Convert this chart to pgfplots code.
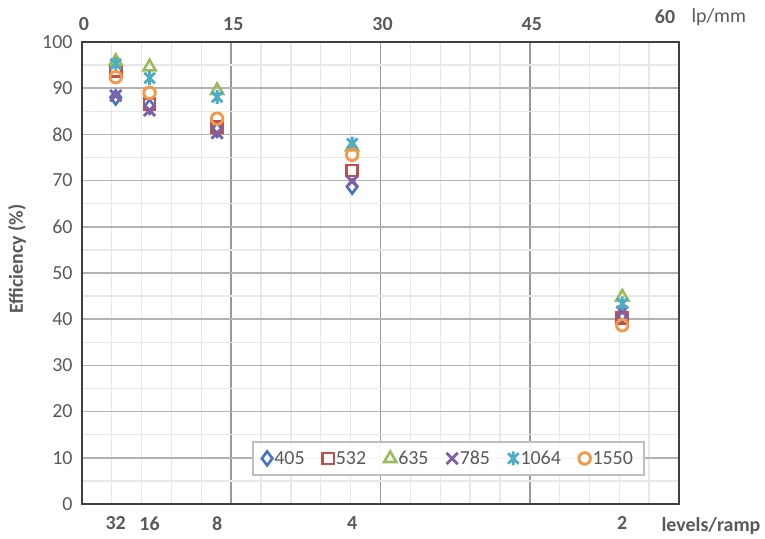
\documentclass[border=0pt]{standalone}
\usepackage{fontspec}
\setmainfont{Carlito}
\usepackage{pgfplots}
\pgfplotsset{compat=1.18}
\definecolor{cA}{HTML}{4472C4}
\definecolor{cB}{HTML}{C0504D}
\definecolor{cC}{HTML}{9BBB59}
\definecolor{cD}{HTML}{7F5FA8}
\definecolor{cE}{HTML}{4BACC6}
\definecolor{cF}{HTML}{F79646}
\definecolor{txt}{HTML}{595959}
\pgfdeclareplotmark{xstar}{%
  \pgfpathmoveto{\pgfqpoint{-0.75\pgfplotmarksize}{-0.75\pgfplotmarksize}}%
  \pgfpathlineto{\pgfqpoint{0.75\pgfplotmarksize}{0.75\pgfplotmarksize}}%
  \pgfpathmoveto{\pgfqpoint{-0.75\pgfplotmarksize}{0.75\pgfplotmarksize}}%
  \pgfpathlineto{\pgfqpoint{0.75\pgfplotmarksize}{-0.75\pgfplotmarksize}}%
  \pgfpathmoveto{\pgfqpoint{0pt}{-\pgfplotmarksize}}%
  \pgfpathlineto{\pgfqpoint{0pt}{\pgfplotmarksize}}%
  \pgfusepathqstroke}
\pgfdeclareplotmark{xcross}{%
  \pgfpathmoveto{\pgfqpoint{-0.8\pgfplotmarksize}{-0.8\pgfplotmarksize}}%
  \pgfpathlineto{\pgfqpoint{0.8\pgfplotmarksize}{0.8\pgfplotmarksize}}%
  \pgfpathmoveto{\pgfqpoint{-0.8\pgfplotmarksize}{0.8\pgfplotmarksize}}%
  \pgfpathlineto{\pgfqpoint{0.8\pgfplotmarksize}{-0.8\pgfplotmarksize}}%
  \pgfusepathqstroke}
\newcommand{\fs}{\fontsize{20}{22}\selectfont}
\begin{document}
\begin{tikzpicture}
\begin{axis}[
  at={(0bp,0bp)}, anchor=south west,
  scale only axis, width=597bp, height=462bp,
  xmin=0, xmax=60, ymin=0, ymax=100,
  xtick={0,15,30,45,60}, xticklabels={0,15,30,45,{}}, ytick={0,10,...,100},
  minor x tick num=4, minor y tick num=1,
  grid=both,
  major x grid style={color=black!40, line width=1.6bp},
  major y grid style={color=black!30, line width=1.6bp},
  minor grid style={color=black!9, line width=1.3bp},
  major tick length=0pt, minor tick length=0pt,
  axis line style={color=black!75, line width=1.8bp},
  xticklabel pos=top,
  /pgf/number format/assume math mode=true,
  xticklabel style={font=\fs\bfseries, text=txt, yshift=8bp, xshift=2bp},
  yticklabel style={font=\fs, text=txt, xshift=-6bp},
  legend columns=6,
  legend style={at={(rel axis cs:0.285,0.136)}, anchor=north west,
    draw=black!25, line width=1.5bp, fill=white, fill opacity=0.9, text opacity=1,
    font=\fs, text=txt, inner xsep=9bp, inner ysep=7bp,
    /tikz/every even column/.append style={column sep=16bp}},
  legend image code/.code={\draw[mark repeat=2,mark phase=2] plot coordinates {(0bp,0bp)(7bp,0bp)(14bp,0bp)};},
  clip=false,
]
\addplot[only marks, mark=diamond, mark size=7bp, draw=cA, line width=2.6bp]
  coordinates {(3.39,88.0) (6.79,86.0) (13.58,81.0) (27.15,68.7) (54.3,41.0)};
\addlegendentry{405}
\addplot[only marks, mark=square, mark size=5.6bp, draw=cB, line width=2.6bp]
  coordinates {(3.39,93.8) (6.79,86.5) (13.58,81.6) (27.15,72.2) (54.3,40.3)};
\addlegendentry{532}
\addplot[only marks, mark=triangle, mark size=7bp, draw=cC, line width=2.6bp]
  coordinates {(3.39,95.8) (6.79,94.6) (13.58,89.5) (27.15,77.3) (54.3,44.8)};
\addlegendentry{635}
\addplot[only marks, mark=xcross, mark size=7bp, draw=cD, line width=2.8bp]
  coordinates {(3.39,88.4) (6.79,85.2) (13.58,80.3) (27.15,69.8) (54.3,41.6)};
\addlegendentry{785}
\addplot[only marks, mark=xstar, mark size=7bp, draw=cE, line width=2.8bp]
  coordinates {(3.39,95.2) (6.79,92.2) (13.58,88.1) (27.15,78.0) (54.3,43.4)};
\addlegendentry{1064}
\addplot[only marks, mark=o, mark size=5.8bp, draw=cF, line width=2.8bp]
  coordinates {(3.39,92.4) (6.79,89.0) (13.58,83.4) (27.15,75.6) (54.3,38.7)};
\addlegendentry{1550}
\node[rotate=90, font=\fs\bfseries, text=txt] at (rel axis cs:-0.109,0.53) {Efficiency (\%)};
\node[font=\fs\bfseries, text=txt] at (rel axis cs:1,1) [xshift=-14bp, yshift=25bp] {60};
\node[font=\fs, text=txt, anchor=west] at (rel axis cs:1,1) [xshift=9bp, yshift=25bp] {lp/mm};
\node[font=\fs\bfseries, text=txt, anchor=west] at (rel axis cs:1,0) [xshift=-21bp, yshift=-22bp] {levels/ramp};
\end{axis}
\begin{axis}[
  at={(0bp,0bp)}, anchor=south west,
  scale only axis, width=597bp, height=462bp,
  xmin=0, xmax=60, ymin=0, ymax=100,
  axis line style={draw=none}, ytick=\empty,
  major tick length=0pt,
  xtick={3.39,6.79,13.58,27.15,54.3},
  xticklabels={32,16,8,4,2},
  xticklabel style={font=\fs\bfseries, text=txt, yshift=-9bp},
]
\end{axis}
\pgfresetboundingbox
\path[use as bounding box] (-82bp,-35bp) rectangle (683bp,504bp);
\end{tikzpicture}
\end{document}
